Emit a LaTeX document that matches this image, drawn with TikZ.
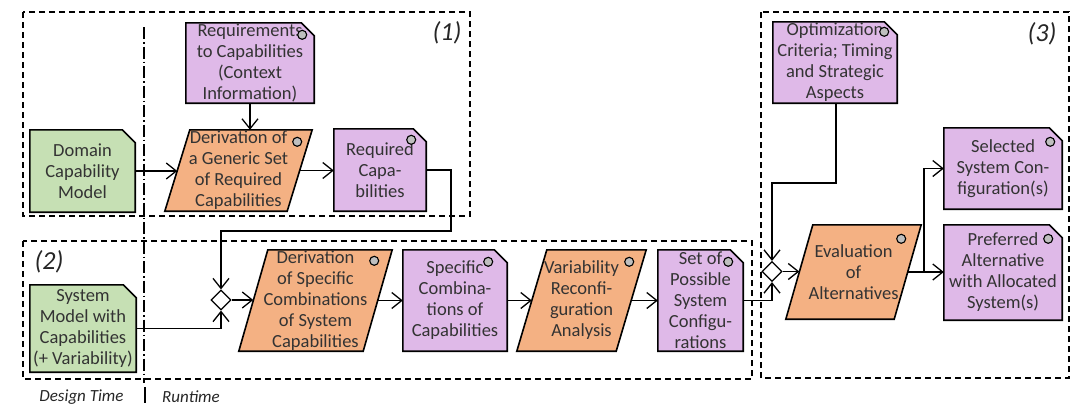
\documentclass[tikz,border=0pt]{standalone}
\usepackage{fontspec}
\setmainfont{Carlito}
\usetikzlibrary{shapes.geometric,arrows.meta,backgrounds}
\definecolor{docgreen}{HTML}{C6E0B4}
\definecolor{docpurple}{HTML}{DFB9E8}
\definecolor{procorange}{HTML}{F4B183}
\definecolor{knobgray}{HTML}{BFBFBF}
\definecolor{txtgray}{HTML}{333333}
\newcommand{\knob}[3]{\draw[knobstyle] ([shift={(#2,#3)}]#1.north east) circle[radius=4.5];}
\newcommand{\procshape}[2]{\draw[procstyle] ([xshift=#2pt]#1.north west) -- (#1.north east) -- ([xshift=-#2pt]#1.south east) -- (#1.south west) -- cycle;}
\newcommand{\docshape}[2]{\draw[docstyle, fill=#2] (#1.south west) -- (#1.north west) -- ([xshift=-13pt]#1.north east) -- ([yshift=-13pt]#1.north east) -- (#1.south east) -- cycle;}
\begin{document}
\begin{tikzpicture}[x=1pt,y=-1pt,
  box/.style={draw=none, inner sep=0pt, align=center, text=txtgray, font=\fontsize{18.5}{21}\selectfont, rectangle},
  docstyle/.style={draw=black, line width=1.6pt, line join=miter},
  procstyle/.style={fill=procorange, draw=black, line width=1.6pt, line join=miter},
  knobstyle/.style={fill=knobgray, draw=black, line width=1.1pt},
  conn/.style={draw=black, line width=1.3pt},
  arr/.style={conn, -{Straight Barb[length=10pt,width=16pt]}},
  region/.style={draw=black, line width=1.5pt, dash pattern=on 6pt off 4pt},
  merge/.style={diamond, draw=black, fill=white, line width=1.2pt, minimum width=20pt, minimum height=20pt, inner sep=0pt},
  tag/.style={font=\fontsize{26}{28}\selectfont\itshape, text=black!85, inner sep=0pt},
  phase/.style={font=\fontsize{17}{19}\selectfont\itshape, text=black!85, inner sep=0pt}
]
\useasboundingbox (0,0) rectangle (1076,407);

% regions
\draw[region] (23,12) rectangle (470,216);
\draw[region] (23,241) rectangle (752,379);
\draw[region] (761,12) rectangle (1069,378);
\draw[line width=1.4pt, dash pattern=on 12pt off 3pt on 1.5pt off 3pt] (144,27) -- (144,383);
\draw[line width=1.4pt] (145,387) -- (145,403);
\node[tag] (t1) at (447,33) {(1)};
\node[tag] (t2) at (49,262) {(2)};
\node[tag] (t3) at (1042,34) {(3)};
\node[phase] (dt) at (81.5,397) {Design Time};
\node[phase] (rt) at (191,397) {Runtime};

% nodes
\node[box, minimum width=105, minimum height=82] (dcm) at (82.5,171) {Domain\\Capability\\Model};
\node[box, minimum width=128, minimum height=80] (req) at (250,63) {Requirements\\to Capabilities\\(Context\\Information)};
\node[box, minimum width=147, minimum height=81] (gen) at (238.5,170.5) {Derivation of\\a Generic Set\\of Required\\Capabilities};
\node[box, minimum width=92, minimum height=82] (rc) at (380,170) {Required\\Capa-\\bilities};
\node[box, minimum width=106, minimum height=87] (smc) at (83,328.5) {System\\Model with\\Capabilities\\(+ Variability)};
\node[merge] (d1) at (221,300) {};
\node[box, minimum width=153, minimum height=101] (spec) at (315.5,300.5) {Derivation\\of Specific\\Combinations\\of System\\Capabilities};
\node[box, minimum width=104, minimum height=101] (comb) at (455,300.5) {Specific\\Combina-\\tions of\\Capabilities};
\node[box, minimum width=129, minimum height=101] (var) at (581.5,300.5) {Variability\\Reconfi-\\guration\\Analysis};
\node[box, minimum width=85, minimum height=101] (set) at (700.5,300.5) {Set of\\Possible\\System\\Configu-\\rations};
\node[box, minimum width=124, minimum height=81] (opt) at (835,62.5) {Optimization\\Criteria; Timing\\and Strategic\\Aspects};
\node[merge] (d2) at (772,271.5) {};
\node[box, minimum width=135, minimum height=94] (eval) at (853.5,272) {Evaluation\\of\\Alternatives};
\node[box, minimum width=118, minimum height=81] (sel) at (1003,168.5) {Selected\\System Con-\\figuration(s)};
\node[box, minimum width=118, minimum height=95] (pref) at (1003,272.5) {Preferred\\Alternative\\with Allocated\\System(s)};

\begin{pgfonlayer}{background}
\docshape{dcm}{docgreen}
\docshape{smc}{docgreen}
\docshape{req}{docpurple}
\docshape{rc}{docpurple}
\docshape{comb}{docpurple}
\docshape{set}{docpurple}
\docshape{opt}{docpurple}
\docshape{sel}{docpurple}
\docshape{pref}{docpurple}
\procshape{gen}{25}
\procshape{spec}{29}
\procshape{var}{30}
\procshape{eval}{27}
\end{pgfonlayer}

% knobs
\knob{req}{-12}{12}
\knob{rc}{-15}{11}
\knob{gen}{-15}{12}
\knob{spec}{-18}{11}
\knob{comb}{-19}{12}
\knob{var}{-17}{12}
\knob{set}{-15}{12}
\knob{opt}{-13}{10}
\knob{sel}{-12}{14}
\knob{pref}{-14}{14}
\knob{eval}{-20}{14}

% edge anchor points on slanted sides
\coordinate (genL) at ([xshift=12.5pt]gen.west);
\coordinate (genR) at ([xshift=-12.5pt]gen.east);
\coordinate (specL) at ([xshift=14.5pt]spec.west);
\coordinate (specR) at ([xshift=-14.5pt]spec.east);
\coordinate (varL) at ([xshift=15pt]var.west);
\coordinate (varR) at ([xshift=-15pt]var.east);
\coordinate (evalL) at ([xshift=13.5pt]eval.west);
\coordinate (evalR) at ([xshift=-13.5pt]eval.east);
\coordinate (fb) at (451,231);
\coordinate (oc) at (836,183);
\coordinate (br) at (924,272);

% connectors
\draw[arr] (dcm.east) -- (dcm.east -| genL);
\draw[arr] (req.south) -- (req.south |- gen.north);
\draw[arr] (genR) -- (genR -| rc.west);
\draw[arr] (rc.east) -| (fb) -| (d1.north);
\draw[arr] (smc.east) -| (d1.south);
\draw[arr] (d1.east) -- (d1.east -| specL);
\draw[arr] (specR) -- (specR -| comb.west);
\draw[arr] (comb.east) -- (comb.east -| varL);
\draw[arr] (varR) -- (varR -| set.west);
\draw[arr] (set.east) -| (d2.south);
\draw[arr] (opt.south -| oc) -- (oc) -| (d2.north);
\draw[arr] (d2.east) -- (d2.east -| evalL);
\draw[arr] (evalR |- br) -- (br -| pref.west);
\draw[arr] (br) |- (sel.west);
\end{tikzpicture}
\end{document}
